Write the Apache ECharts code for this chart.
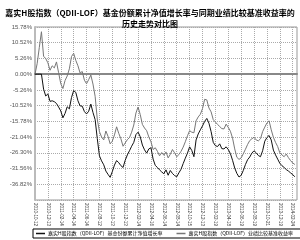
<!DOCTYPE html>
<html><head><meta charset="utf-8">
<script src="https://cdn.jsdelivr.net/npm/echarts@6/dist/echarts.min.js"></script>
<style>html,body{margin:0;padding:0;background:#fff}#c{width:300px;height:240px}</style>
</head><body><div id="c"></div>
<script>
var titleText = '嘉实H股指数（QDII-LOF）基金份额累计净值增长率与同期业绩比较基准收益率的\n历史走势对比图';
var seriesNames = ['嘉实H股指数（QDII-LOF）基金份额累计净值增长率', '嘉实H股指数（QDII-LOF）业绩比较基准收益率'];
var tickLabels = ['2010-10-12','2010-12-13','2011-02-14','2011-04-14','2011-06-14','2011-08-12','2011-10-13','2011-12-13','2012-02-14','2012-04-16','2012-06-14','2012-08-14','2012-10-15','2012-12-13','2013-02-19','2013-04-18','2013-06-19','2013-08-19','2013-10-21','2013-12-19','2014-02-24'];
var pointsPerTick = 6;
var totalPoints = 123;
var yTicks = [15.78, 10.52, 5.26, 0, -5.26, -10.52, -15.78, -21.04, -26.30, -31.56, -36.82];
var fundValues = [0,0,0,0,-5.0,-7.3,-6.6,-9.1,-8.9,-9.2,-9.8,-11.0,-12.3,-14.6,-13.1,-10.9,-11.6,-7.8,-5.5,-6.1,
-8.9,-10.6,-10.7,-12.5,-13.3,-12.4,-10.0,-12.8,-15.2,-21.5,-27.3,-29.0,-30.3,-32.4,-33.5,-34.5,-32.6,-30.4,-28.9,-29.6,
-30.6,-31.2,-28.8,-27.0,-25.6,-24.1,-22.8,-20.2,-19.4,-20.9,-23.7,-25.3,-26.4,-25.0,-24.6,-28.4,-30.5,-31.2,-32.0,-32.7,
-33.3,-32.0,-33.8,-32.2,-33.2,-33.9,-34.3,-33.0,-31.8,-29.9,-28.1,-26.4,-24.3,-25.5,-27.6,-22.0,-20.0,-18.6,-17.3,-15.8,
-14.8,-16.4,-19.2,-22.8,-23.9,-24.2,-23.3,-24.9,-25.0,-24.3,-25.2,-26.6,-28.8,-31.4,-33.2,-34.4,-33.8,-32.2,-30.2,-28.6,
-27.7,-26.4,-25.6,-26.3,-27.2,-27.6,-25.6,-22.4,-21.2,-20.5,-22.0,-25.4,-27.0,-28.4,-29.8,-30.6,-31.2,-31.9,-32.4,-33.0,
-33.6,-34.3];
var benchValues = [0,3.5,8.9,14.2,6.0,5.2,3.8,1.3,2.8,2.1,4.1,0.5,-3.2,-4.8,-2.1,-0.6,1.8,5.9,7.0,4.6,
2.8,0.4,0.9,-2.0,-3.2,-1.8,-0.3,-3.3,-7.4,-15.0,-19.2,-21.0,-22.0,-19.0,-20.8,-23.3,-22.4,-20.3,-17.6,-19.8,
-21.6,-24.1,-23.0,-21.9,-21.2,-19.4,-17.0,-13.0,-11.0,-13.5,-16.8,-18.0,-18.9,-21.0,-22.6,-25.2,-24.6,-25.8,-27.3,-26.2,
-27.1,-26.0,-28.0,-26.8,-25.2,-26.3,-27.6,-26.9,-25.8,-24.4,-22.6,-20.6,-18.9,-19.4,-19.6,-15.6,-14.3,-13.4,-11.5,-8.4,
-8.6,-11.3,-12.6,-15.2,-16.0,-16.8,-17.5,-18.2,-18.3,-16.7,-17.8,-19.1,-21.4,-25.0,-27.8,-28.5,-28.0,-26.6,-25.1,-23.5,
-22.2,-21.6,-21.1,-22.0,-22.3,-21.6,-19.2,-17.7,-16.3,-15.6,-18.6,-21.1,-22.8,-24.2,-26.3,-27.0,-27.6,-26.7,-27.9,-28.9,
-29.7,-30.2];

var categories = [];
for (var i = 0; i < totalPoints; i++) {
  categories.push(i % pointsPerTick === 0 && tickLabels[i / pointsPerTick] ? tickLabels[i / pointsPerTick] : '');
}
var yStep = yTicks[0] - yTicks[1];

var chart = echarts.init(document.getElementById('c'), null, {renderer: 'canvas'});
chart.setOption({
  animation: false,
  backgroundColor: '#fff',
  title: {
    text: titleText, left: 'center', top: 2,
    textStyle: {fontFamily: 'Noto Sans CJK SC', fontWeight: 'bold', fontSize: 8, lineHeight: 11, color: '#000'}
  },
  grid: {left: 35, right: 3, top: 27, bottom: 40, show: true, borderColor: '#999', borderWidth: 1},
  legend: {
    left: 33, bottom: 2, width: 264, itemGap: 14, itemWidth: 9, itemHeight: 1.5, icon: 'rect',
    padding: [2, 20, 2, 3], borderColor: '#000', borderWidth: 1,
    textStyle: {fontFamily: 'Noto Sans CJK SC', fontSize: 5, color: '#000', padding: [0, 0, 0, -2]},
    data: seriesNames
  },
  xAxis: {
    type: 'category', data: categories, boundaryGap: false,
    axisLine: {lineStyle: {color: '#888', width: 2}},
    axisTick: {show: false},
    axisLabel: {interval: pointsPerTick - 1, rotate: -90, fontSize: 4.5, color: '#333', margin: 3, fontFamily: 'Liberation Sans'},
    splitLine: {show: true, interval: pointsPerTick - 1, lineStyle: {color: '#aaa', type: [1, 1], width: 1}}
  },
  yAxis: {
    type: 'value', min: yTicks[yTicks.length - 1] - yStep, max: yTicks[0], interval: yStep,
    axisLine: {show: true, lineStyle: {color: '#bbb', width: 2}},
    axisTick: {show: false},
    axisLabel: {
      fontSize: 6, color: '#555', margin: 3, fontFamily: 'Liberation Sans',
      formatter: function (v) {
        for (var k = 0; k < yTicks.length; k++) { if (Math.abs(v - yTicks[k]) < 0.01) return yTicks[k].toFixed(2) + '%'; }
        return '';
      }
    },
    splitLine: {show: true, lineStyle: {color: '#aaa', type: [1, 1], width: 1}}
  },
  series: [
    {name: seriesNames[0], type: 'line', data: fundValues, showSymbol: false, lineStyle: {color: '#111', width: 1}, itemStyle: {color: '#111'}, z: 3},
    {name: seriesNames[1], type: 'line', data: benchValues, showSymbol: false, lineStyle: {color: '#777', width: 1}, itemStyle: {color: '#777'}, z: 2}
  ]
});
</script></body></html>
